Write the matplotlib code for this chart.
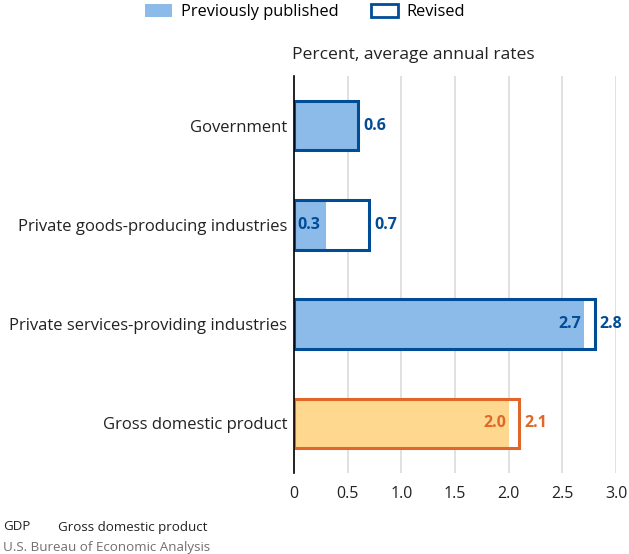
import matplotlib
matplotlib.use("Agg")
import matplotlib.pyplot as plt
from matplotlib.patches import Patch

categories = ["Government", "Private goods-producing industries",
              "Private services-providing industries", "Gross domestic product"]
previous = [0.6, 0.3, 2.7, 2.0]
revised = [0.6, 0.7, 2.8, 2.1]
xticks = [0, 0.5, 1.0, 1.5, 2.0, 2.5, 3.0]
xticklabels = ["0", "0.5", "1.0", "1.5", "2.0", "2.5", "3.0"]

LIGHT_BLUE = "#8cbbe9"
DARK_BLUE = "#004c97"
ORANGE = "#e0662a"
LIGHT_ORANGE = "#fed88f"
GRID = "#dcdcdc"

plt.rcParams["font.family"] = ["Open Sans", "DejaVu Sans"]

fig = plt.figure(figsize=(6.29, 5.54), dpi=100)
ax = fig.add_axes([294 / 629, 1 - 473 / 554, (616 - 294) / 629, (473 - 76) / 554])

ypos = list(range(len(categories)))
h = 0.5
for i, (p, r) in enumerate(zip(previous, revised)):
    is_gdp = categories[i] == "Gross domestic product"
    fill = LIGHT_ORANGE if is_gdp else LIGHT_BLUE
    edge = ORANGE if is_gdp else DARK_BLUE
    ax.barh(i, r, height=h, color="white", edgecolor="none", zorder=2)
    ax.barh(i, p, height=h, color=fill, edgecolor="none", zorder=3)
    ax.barh(i, r, height=h, color="none", edgecolor=edge, linewidth=2.2, zorder=4)
    ax.text(r + 0.05, i, f"{r:.1f}", va="center", ha="left", color=edge,
            fontsize=11.5, fontweight="bold", zorder=5)
    if p != r:
        ax.text(p - 0.02 if p > 0.5 else 0.03, i, f"{p:.1f}", va="center",
                ha="right" if p > 0.5 else "left", color=edge,
                fontsize=11.5, fontweight="bold", zorder=5)

ax.set_ylim(len(categories) - 0.5, -0.5)
ax.set_xlim(0, 3.0)
ax.set_yticks(ypos)
ax.set_yticklabels(categories, fontsize=12, color="#222222")
ax.set_xticks(xticks)
ax.set_xticklabels(xticklabels, fontsize=11.5, color="#222222")
ax.tick_params(axis="y", length=0, pad=5)
ax.tick_params(axis="x", length=0, pad=9)
ax.xaxis.grid(True, color=GRID, linewidth=1.2, zorder=0)
ax.set_axisbelow(True)
for s in ["top", "right", "bottom"]:
    ax.spines[s].set_visible(False)
ax.spines["left"].set_color("black")
ax.spines["left"].set_linewidth(1.2)
ax.spines["left"].set_zorder(6)

fig.text(292 / 629, 1 - 55 / 554, "Percent, average annual rates", fontsize=12.6,
         ha="left", va="center", color="#222222")

handles = [Patch(facecolor=LIGHT_BLUE, edgecolor="none", label="Previously published"),
           Patch(facecolor="white", edgecolor=DARK_BLUE, linewidth=2, label="Revised")]
fig.legend(handles=handles, loc="center", bbox_to_anchor=(305 / 629, 1 - 12 / 554),
           ncol=2, frameon=False, fontsize=11.8, handlelength=1.65, handleheight=0.9,
           columnspacing=2.0, handletextpad=0.5)

fig.text(3 / 629, 1 - 527 / 554, "GDP", fontsize=9.6, ha="left", va="center", color="#222222")
fig.text(58 / 629, 1 - 527 / 554, "Gross domestic product", fontsize=9.6, ha="left",
         va="center", color="#222222")
fig.text(3 / 629, 1 - 547 / 554, "U.S. Bureau of Economic Analysis", fontsize=9.6,
         ha="left", va="center", color="#707070")

fig.savefig("out.png", dpi=100)
